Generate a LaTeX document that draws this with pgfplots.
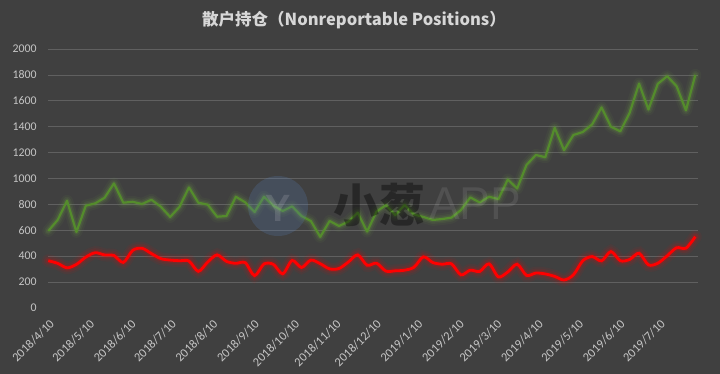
\documentclass[border=0pt]{standalone}
\usepackage{fontspec}
\usepackage{pgfplots}
\usepackage{pgfplotstable}
\pgfplotsset{compat=1.18}
\setmainfont{Carlito}
\newfontfamily\cjk{Noto Sans CJK SC}
\newfontfamily\wmsans{Liberation Sans}
\definecolor{bg}{RGB}{64,64,64}
\definecolor{gridc}{RGB}{96,96,96}
\definecolor{lbl}{RGB}{198,198,198}
\definecolor{titlec}{RGB}{215,215,215}
\definecolor{gline}{RGB}{84,140,44}
\definecolor{gglow}{RGB}{110,160,70}
\definecolor{rline}{RGB}{255,0,0}
\pgfplotstableread{
d g r
0 595 365
7 680 345
14 828 310
21 587 337
28 790 393
35 808 427
42 851 410
49 962 405
56 813 352
63 820 445
70 803 461
77 836 420
84 782 381
91 703 370
98 782 365
105 931 363
112 813 283
119 798 355
126 705 410
133 710 360
140 859 345
147 816 350
154 741 250
161 859 340
168 790 337
175 749 264
182 785 367
189 710 313
196 672 370
203 549 342
210 672 302
217 633 305
224 667 355
231 736 410
238 590 330
245 744 346
252 795 285
259 718 287
266 795 292
273 722 315
280 703 395
287 680 351
294 687 338
301 698 341
308 756 256
315 854 292
322 815 282
329 859 341
336 841 240
343 992 278
350 923 338
357 1105 252
364 1182 270
371 1164 263
378 1392 244
385 1218 216
392 1336 256
399 1359 365
406 1418 397
413 1549 364
420 1400 436
427 1364 365
434 1508 375
441 1733 423
448 1533 333
455 1731 346
462 1790 403
469 1713 465
476 1526 462
483 1800 551
}\cot
\begin{document}
\begin{tikzpicture}
\path[use as bounding box, fill=bg] (-48.3bp,-66bp) rectangle (671.7bp,308bp);
\begin{axis}[
  at={(0,0)}, anchor=south west,
  scale only axis, width=649.7bp, height=259bp,
  xmin=0, xmax=485, ymin=0, ymax=2000,
  axis line style={draw=none},
  major tick length=0pt,
  ytick={200,400,...,2000},
  extra y ticks={0},
  extra y tick style={grid=none},
  ymajorgrids,
  grid style={gridc, line width=0.75bp},
  xtick={0,30,61,91,122,153,183,214,244,275,306,334,365,395,426,456},
  xticklabels={2018/4/10,2018/5/10,2018/6/10,2018/7/10,2018/8/10,2018/9/10,2018/10/10,2018/11/10,2018/12/10,2019/1/10,2019/2/10,2019/3/10,2019/4/10,2019/5/10,2019/6/10,2019/7/10},
  /pgf/number format/assume math mode=true,
  /pgf/number format/1000 sep={},
  yticklabel style={font=\fontsize{11.8bp}{12bp}\selectfont, text=lbl, anchor=east, inner sep=0pt, xshift=-11.6bp},
  xticklabel style={font=\fontsize{12.4bp}{13bp}\selectfont, text=lbl, xshift=0.5bp, yshift=-10.5bp, rotate=45, anchor=north east, inner sep=0pt},
  clip=false,
]
\addplot[gglow, line width=12bp, opacity=0.07, line join=round, line cap=round] table[x=d,y=g]{\cot};
\addplot[gglow, line width=8bp, opacity=0.11, line join=round, line cap=round] table[x=d,y=g]{\cot};
\addplot[gglow, line width=5bp, opacity=0.16, line join=round, line cap=round] table[x=d,y=g]{\cot};
\addplot[gline, line width=2.2bp, line join=round] table[x=d,y=g]{\cot};
\addplot[rline, smooth, line width=13bp, opacity=0.06, line cap=round] table[x=d,y=r]{\cot};
\addplot[rline, smooth, line width=9bp, opacity=0.09, line cap=round] table[x=d,y=r]{\cot};
\addplot[rline, smooth, line width=5.5bp, opacity=0.15, line cap=round] table[x=d,y=r]{\cot};
\addplot[rline, smooth, line width=2.8bp] table[x=d,y=r]{\cot};
\end{axis}
% watermark
\fill[fill={rgb,255:red,90;green,130;blue,190}, opacity=0.22] (229.7bp,102bp) circle (30bp);
\node[text=white, opacity=0.13, font=\wmsans\bfseries\fontsize{38bp}{40bp}\selectfont] at (229.7bp,100bp) {Y};
\node[text=black, opacity=0.38, font=\cjk\bfseries\fontsize{46bp}{48bp}\selectfont] at (331bp,103bp) {小葱};
\node[text=white, opacity=0.09, font=\wmsans\fontsize{46bp}{48bp}\selectfont] at (427bp,104bp) {APP};
% title
\node[text=titlec, font=\cjk\bfseries\fontsize{16.5bp}{18bp}\selectfont] at (305.7bp,287.5bp) {散户持仓（Nonreportable Positions）};
\end{tikzpicture}
\end{document}
